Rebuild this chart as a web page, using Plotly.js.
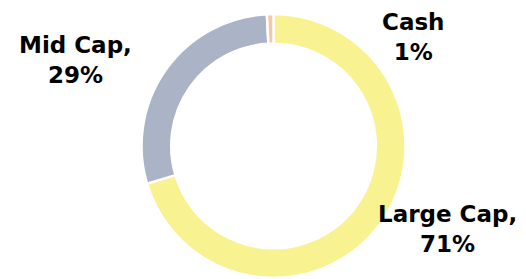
<!DOCTYPE html>
<html><head><meta charset="utf-8">
<script src="https://cdn.plot.ly/plotly-3.0.1.min.js"></script>
<style>html,body{margin:0;padding:0;background:#fff;}#chart{width:526px;height:279px;}</style>
</head><body><div id="chart"></div>
<script>
const categories = ["Large Cap", "Mid Cap", "Cash"];
const values = [70.4, 28.8, 0.8];
const labelText = ["Large Cap,<br>71%", "Mid Cap,<br>29%", "Cash<br>1%"];
const colors = ["#F8F291", "#AAB4C6", "#F6C6A6"];

const data = [{
  type: "pie",
  labels: categories,
  values: values,
  sort: false,
  direction: "clockwise",
  rotation: 0,
  hole: 0.775,
  textinfo: "none",
  hoverinfo: "label+percent",
  marker: {colors: colors, line: {color: "#ffffff", width: 2.5}},
  domain: {x: [0.2690, 0.7710], y: [0.0036, 0.9498]},
  showlegend: false
}];

const font = {family: "'DejaVu Sans', 'Open Sans', sans-serif", size: 23, color: "#000"};
const ann = (t, x, y) => ({text: "<b>" + t + "</b>", x: x/526, y: 1 - y/279, xref: "paper", yref: "paper",
  xanchor: "center", yanchor: "middle", showarrow: false, font: font, align: "center"});
const layout = {
  width: 526, height: 279,
  margin: {l: 0, r: 0, t: 0, b: 0},
  paper_bgcolor: "#fff",
  showlegend: false,
  annotations: [
    ann(labelText[0], 447, 229),
    ann(labelText[1], 75, 60),
    ann(labelText[2], 413, 37)
  ]
};
Plotly.newPlot("chart", data, layout, {displayModeBar: false, staticPlot: true});
</script></body></html>
